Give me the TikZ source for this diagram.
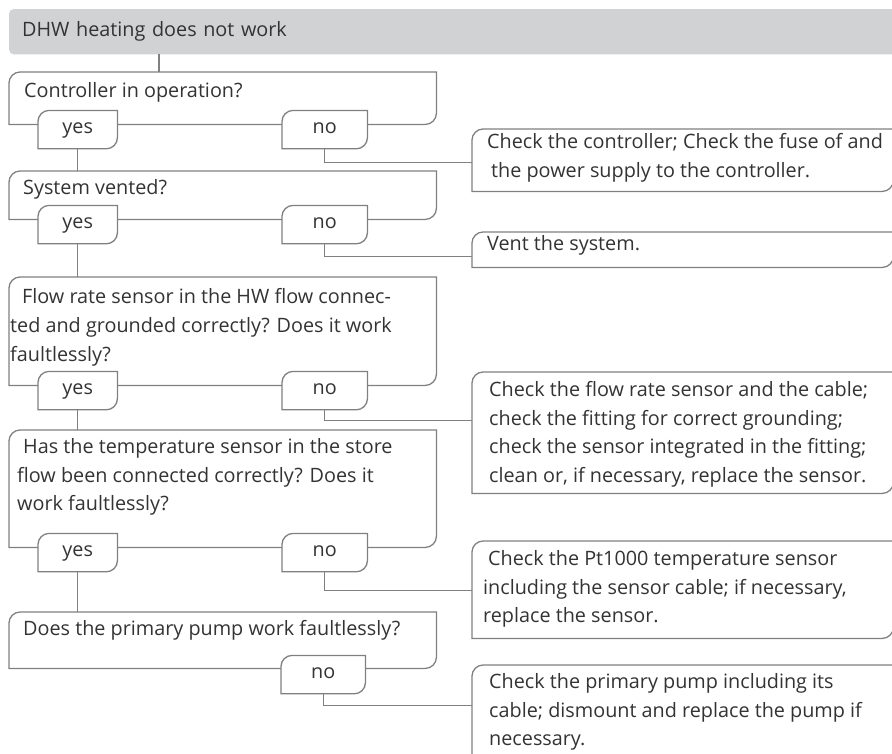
\documentclass[tikz,border=0pt]{standalone}
\usepackage{fontspec}
\setmainfont{Open Sans}
\usetikzlibrary{positioning,backgrounds}

\definecolor{linegray}{HTML}{808080}
\definecolor{bargray}{HTML}{D1D2D4}
\definecolor{txtgray}{HTML}{333333}

\newcommand\cutframe[2][]{%
  \draw[frameline,#1] (#2.south west) -- ([yshift=-11pt]#2.north west)
    .. controls ([yshift=-5pt]#2.north west) and ([xshift=5pt]#2.north west) .. ([xshift=11pt]#2.north west)
    -- (#2.north east) -- ([yshift=11pt]#2.south east)
    .. controls ([yshift=5pt]#2.south east) and ([xshift=-5pt]#2.south east) .. ([xshift=-11pt]#2.south east)
    -- cycle;}

\begin{document}
\begin{tikzpicture}[x=1pt, y=1pt,
  every node/.style={font=\fontsize{19.8}{28.8}\selectfont, text=txtgray},
  qbox/.style={rectangle, inner sep=0pt, anchor=north west, minimum width=427pt, minimum height=#1},
  rbox/.style={rectangle, inner sep=0pt, anchor=north west, minimum width=421pt, minimum height=#1},
  qtext/.style={anchor=north west, inner sep=0pt, align=left},
  tab/.style={rectangle, inner sep=0pt, anchor=north west, minimum width=#1, minimum height=38pt,
    text height=11pt, text depth=3pt},
  frameline/.style={draw=linegray, line width=1.3pt},
  link/.style={draw=linegray, line width=1.3pt}]

\useasboundingbox (0,0) rectangle (892,-753);

\node[anchor=north west, minimum width=883pt, minimum height=45pt, inner xsep=13pt, inner ysep=0pt,
  text width=857pt, align=left] (title) at (9,-9) {DHW heating does not work};

% questions
\node[qbox=52pt] (q1) at (9,-72) {};
\node[qbox=48pt] (q2) at (9,-171) {};
\node[qbox=108pt] (q3) at (9,-277) {};
\node[qbox=117pt] (q4) at (9,-430) {};
\node[qbox=56pt] (q5) at (9,-612) {};

\node[qtext] (q1t) at ([xshift=15pt,yshift=-10pt]q1.north west) {Controller in operation?};
\node[qtext] (q2t) at ([xshift=14pt,yshift=-8pt]q2.north west) {System vented?};
\node[qtext] (q3t) at ([xshift=1pt,yshift=-11.5pt]q3.north west)
  {\hspace*{12pt}Flow rate sensor in the HW flow connec-\\ted and grounded correctly? Does it work\\faultlessly?};
\node[qtext] (q4t) at ([xshift=8pt,yshift=-8pt]q4.north west)
  {\hspace*{6pt}Has the temperature sensor in the store\\flow been connected correctly? Does it\\work faultlessly?};
\node[qtext] (q5t) at ([xshift=14pt,yshift=-8pt]q5.north west) {Does the primary pump work faultlessly?};

% yes / no tabs
\node[tab=79pt] (y1) at ([xshift=29pt,yshift=14pt]q1.south west) {yes};
\node[tab=85pt] (n1) at ([xshift=273pt,yshift=14pt]q1.south west) {no};
\node[tab=79pt] (y2) at ([xshift=29pt,yshift=14pt]q2.south west) {yes};
\node[tab=85pt] (n2) at ([xshift=273pt,yshift=14pt]q2.south west) {no};
\node[tab=79pt] (y3) at ([xshift=29pt,yshift=14pt]q3.south west) {yes};
\node[tab=85pt] (n3) at ([xshift=273pt,yshift=14pt]q3.south west) {no};
\node[tab=79pt] (y4) at ([xshift=29pt,yshift=14pt]q4.south west) {yes};
\node[tab=85pt] (n4) at ([xshift=273pt,yshift=14pt]q4.south west) {no};
\node[tab=84pt] (n5) at ([xshift=272pt,yshift=13pt]q5.south west) {no};

% remedies
\node[rbox=62pt] (r1) at (472,-129) {};
\node[rbox=35pt] (r2) at (472,-232) {};
\node[rbox=121pt] (r3) at (472,-372) {};
\node[rbox=97pt] (r4) at (472,-541) {};
\node[rbox=100pt] (r5) at (472,-665) {};

\node[qtext] (r1t) at ([xshift=15pt,yshift=-4.5pt]r1.north west)
  {Check the controller; Check the fuse of and\\\hspace*{4pt}the power supply to the controller.};
\node[qtext] (r2t) at ([xshift=15pt,yshift=-3.5pt]r2.north west) {Vent the system.};
\node[qtext] (r3t) at ([xshift=17pt,yshift=-9pt]r3.north west)
  {Check the flow rate sensor and the cable;\\check the fitting for correct grounding;\\check the sensor integrated in the fitting;\\clean or, if necessary, replace the sensor.};
\node[qtext] (r4t) at ([xshift=11pt,yshift=-9pt]r4.north west)
  {\hspace*{5pt}Check the Pt1000 temperature sensor\\including the sensor cable; if necessary,\\replace the sensor.};
\node[qtext] (r5t) at ([xshift=17pt,yshift=-8pt]r5.north west)
  {Check the primary pump including its\\cable; dismount and replace the pump if\\necessary.};

% connectors
\draw[link] ([xshift=150pt]title.south west) -- ([xshift=150pt]q1.north west);
\draw[link] (y1.south) -- (y1.south |- q2.north);
\draw[link] (y2.south) -- (y2.south |- q3.north);
\draw[link] (y3.south) -- (y3.south |- q4.north);
\draw[link] (y4.south) -- (y4.south |- q5.north);
\draw[link] (n1.south) |- ([yshift=-14pt]n1.south -| r1.west);
\draw[link] (n2.south) |- ([yshift=-13pt]n2.south -| r2.west);
\draw[link] (n3.south) |- ([yshift=-11pt]n3.south -| r3.west);
\draw[link] (n4.south) |- ([yshift=-19pt]n4.south -| r4.west);
\draw[link] (n5.south) |- ([yshift=-12pt]n5.south -| r5.west);

\begin{scope}[on background layer]
  \clip (0,0) rectangle (892,-753);
  \fill[bargray, rounded corners=5pt] (title.south west) rectangle ([xshift=8pt]title.north east);
  \foreach \b in {q1,q2,q3,q4,q5,r1,r2,r3,r4,r5} {\cutframe{\b}}
  \foreach \b in {y1,n1,y2,n2,y3,n3,y4,n4,n5} {\cutframe[fill=white]{\b}}
\end{scope}

\end{tikzpicture}
\end{document}
